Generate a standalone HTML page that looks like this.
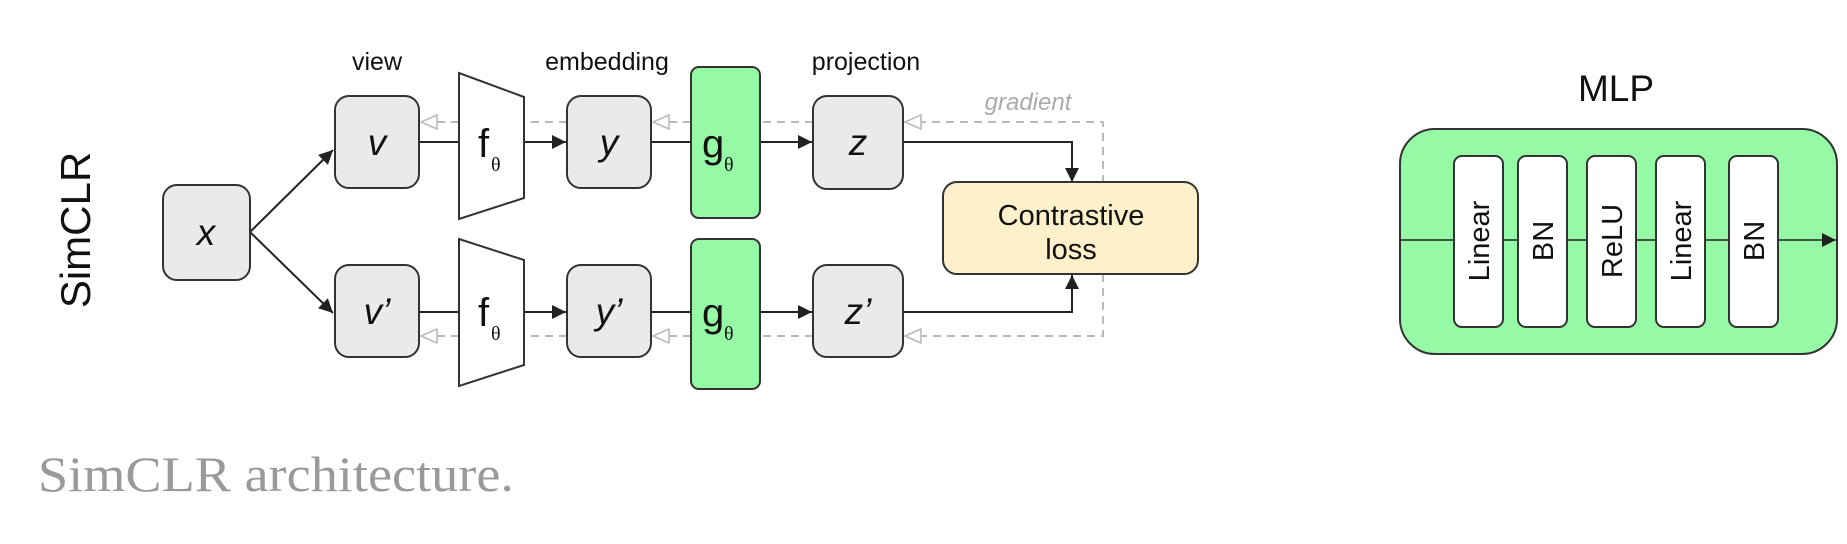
<!DOCTYPE html>
<html><head><meta charset="utf-8"><style>
html,body{margin:0;padding:0;background:#fff;width:1847px;height:544px;overflow:hidden}
svg{display:block}
</style></head><body>
<svg width="1847" height="544" viewBox="0 0 1847 544" xmlns="http://www.w3.org/2000/svg" font-family="Liberation Sans, sans-serif">
<defs>
<marker id="ab" viewBox="0 0 10 10" refX="10" refY="5" markerWidth="16" markerHeight="14" markerUnits="userSpaceOnUse" orient="auto"><path d="M0,0L10,5L0,10z" fill="#222"/></marker>
</defs>
<text transform="translate(90,230) rotate(-90)" text-anchor="middle" font-size="42" fill="#111">SimCLR</text>
<g font-size="25" fill="#111" text-anchor="middle">
<text x="377" y="70">view</text><text x="607" y="70">embedding</text><text x="866" y="70">projection</text>
</g>
<text x="1028" y="110" font-size="24" font-style="italic" fill="#aaa" text-anchor="middle">gradient</text>
<g stroke="#bbb" stroke-width="2" stroke-dasharray="8,6" fill="none">
<polyline points="1103,183 1103,122 905,122"/>
<polyline points="1103,274 1103,336 905,336"/>
<line x1="813" y1="122" x2="761" y2="122"/><line x1="691" y1="122" x2="653" y2="122"/><line x1="567" y1="122" x2="526" y2="122"/><line x1="459" y1="122" x2="421" y2="122"/>
<line x1="813" y1="336" x2="761" y2="336"/><line x1="691" y1="336" x2="653" y2="336"/><line x1="567" y1="336" x2="526" y2="336"/><line x1="459" y1="336" x2="421" y2="336"/>
</g>
<g stroke="#bbb" stroke-width="1.6" fill="#fff">
<path d="M921,115L905,122L921,129z"/><path d="M669,115L653,122L669,129z"/><path d="M437,115L421,122L437,129z"/>
<path d="M921,329L905,336L921,343z"/><path d="M669,329L653,336L669,343z"/><path d="M437,329L421,336L437,343z"/>
</g>
<g stroke="#222" stroke-width="2" fill="none">
<line x1="250" y1="232" x2="333" y2="150" marker-end="url(#ab)"/>
<line x1="250" y1="232" x2="333" y2="313" marker-end="url(#ab)"/>
<line x1="419" y1="142" x2="459" y2="142"/><line x1="524" y1="142" x2="566" y2="142" marker-end="url(#ab)"/>
<line x1="651" y1="142" x2="691" y2="142"/><line x1="760" y1="142" x2="812" y2="142" marker-end="url(#ab)"/>
<polyline points="903,142 1072,142 1072,182" marker-end="url(#ab)"/>
<line x1="419" y1="312" x2="459" y2="312"/><line x1="524" y1="312" x2="566" y2="312" marker-end="url(#ab)"/>
<line x1="651" y1="312" x2="691" y2="312"/><line x1="760" y1="312" x2="812" y2="312" marker-end="url(#ab)"/>
<polyline points="903,312 1072,312 1072,275" marker-end="url(#ab)"/>
</g>
<g stroke="#333" stroke-width="2" fill="#e8eaec">
<rect x="163" y="185" width="87" height="95" rx="14"/>
<rect x="335" y="96" width="84" height="92" rx="14"/><rect x="335" y="265" width="84" height="92" rx="14"/>
<rect x="567" y="96" width="84" height="92" rx="14"/><rect x="567" y="265" width="84" height="92" rx="14"/>
<rect x="813" y="96" width="90" height="93" rx="14"/><rect x="813" y="265" width="90" height="92" rx="14"/>
</g>
<g stroke="#333" stroke-width="2" fill="#fff">
<path d="M459,73L524,97L524,198L459,219z"/><path d="M459,239L524,260L524,365L459,386z"/>
</g>
<g stroke="#333" stroke-width="2" fill="#96f9a6">
<rect x="691" y="67" width="69" height="151" rx="8"/><rect x="691" y="239" width="69" height="150" rx="8"/>
</g>
<rect x="943" y="182" width="255" height="92" rx="14" fill="#fdf0cb" stroke="#333" stroke-width="2"/>
<g font-size="29" fill="#111" text-anchor="middle"><text x="1071" y="225">Contrastive</text><text x="1071" y="259">loss</text></g>
<g font-size="37" font-style="italic" fill="#111" text-anchor="middle">
<text x="206" y="245">x</text><text x="377" y="155">v</text><text x="377" y="324">v’</text>
<text x="609" y="155">y</text><text x="609" y="324">y’</text>
<text x="858" y="155">z</text><text x="858" y="324">z’</text>
</g>
<g font-size="40" fill="#111"><text x="478" y="157">f</text><text x="478" y="326">f</text><text x="702" y="157">g</text><text x="702" y="326">g</text></g>
<g font-size="20" fill="#111" font-family="Liberation Serif, serif"><text x="491" y="171">θ</text><text x="491" y="340">θ</text><text x="724" y="171">θ</text><text x="724" y="340">θ</text></g>
<text x="38" y="491" font-family="Liberation Serif, serif" font-size="50" fill="#9a9a9a" textLength="476" lengthAdjust="spacingAndGlyphs">SimCLR architecture.</text>
<text x="1616" y="101" font-size="37" fill="#111" text-anchor="middle">MLP</text>
<rect x="1400" y="129" width="437" height="225" rx="35" fill="#96f9a6" stroke="#333" stroke-width="2"/>
<line x1="1400" y1="240" x2="1836" y2="240" stroke="#222" stroke-width="1.6" marker-end="url(#ab)"/>
<g stroke="#333" stroke-width="2" fill="#fff">
<rect x="1454" y="156" width="49" height="171" rx="8"/><rect x="1518" y="156" width="49" height="171" rx="8"/>
<rect x="1587" y="156" width="49" height="171" rx="8"/><rect x="1656" y="156" width="49" height="171" rx="8"/>
<rect x="1729" y="156" width="49" height="171" rx="8"/>
</g>
<g font-size="29" fill="#111" text-anchor="middle">
<text transform="translate(1489,241) rotate(-90)">Linear</text>
<text transform="translate(1553,241) rotate(-90)">BN</text>
<text transform="translate(1622,241) rotate(-90)">ReLU</text>
<text transform="translate(1691,241) rotate(-90)">Linear</text>
<text transform="translate(1764,241) rotate(-90)">BN</text>
</g>
</svg>
</body></html>
